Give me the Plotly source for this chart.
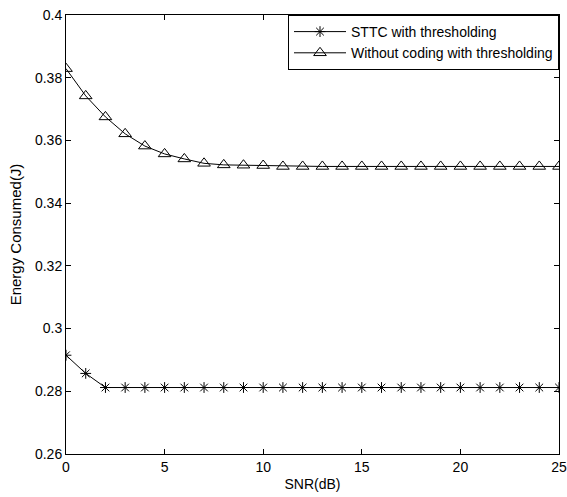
import plotly.graph_objects as go

snr = list(range(0, 26))
sttc = [0.2915, 0.2857] + [0.2812] * 24
uncoded = [0.3829, 0.3742, 0.3675, 0.3621, 0.3582, 0.3557, 0.3541, 0.3527,
           0.3522, 0.3521, 0.3520] + [0.3517] * 15

FONT = "Liberation Sans, Arial"

fig = go.Figure()
fig.add_trace(go.Scatter(x=snr, y=sttc, mode="lines+markers",
                         name="STTC with thresholding",
                         line=dict(color="black", width=1),
                         marker=dict(symbol="asterisk-open", size=9,
                                     line=dict(color="black", width=1))))
fig.add_trace(go.Scatter(x=snr, y=uncoded, mode="lines+markers",
                         name="Without coding with thresholding",
                         line=dict(color="black", width=1),
                         marker=dict(symbol="triangle-up-open", size=11,
                                     color="black",
                                     line=dict(color="black", width=1))))

axis_common = dict(showgrid=False, zeroline=False, showline=True,
                   linecolor="black", linewidth=1, mirror="ticks",
                   ticks="inside", ticklen=5, tickcolor="black", automargin=False,
                   ticklabeloverflow="allow",
                   tickfont=dict(family=FONT, size=14, color="black"))

fig.update_layout(
    width=567, height=497,
    margin=dict(l=66, r=8, t=15, b=43),
    paper_bgcolor="white", plot_bgcolor="white",
    showlegend=True,
    legend=dict(x=1, y=1, xanchor="right", yanchor="top",
                bordercolor="black", borderwidth=1, bgcolor="white",
                font=dict(family=FONT, size=14, color="black"),
                itemwidth=52, tracegroupgap=0),
    xaxis=dict(range=[0, 25], tickvals=[0, 5, 10, 15, 20, 25],
               title=dict(text="SNR(dB)", standoff=5,
                          font=dict(family=FONT, size=14, color="black")),
               **axis_common),
    yaxis=dict(range=[0.26, 0.4], tickvals=[0.26, 0.28, 0.3, 0.32, 0.34, 0.36, 0.38, 0.4],
               ticktext=["0.26", "0.28", "0.3", "0.32", "0.34", "0.36", "0.38", "0.4"],
               title=dict(text="Energy Consumed(J)", standoff=9,
                          font=dict(family=FONT, size=15, color="black")),
               **axis_common),
)

fig.write_html("out.html", config={"displayModeBar": False},
               post_script="document.body.style.margin='0';")
